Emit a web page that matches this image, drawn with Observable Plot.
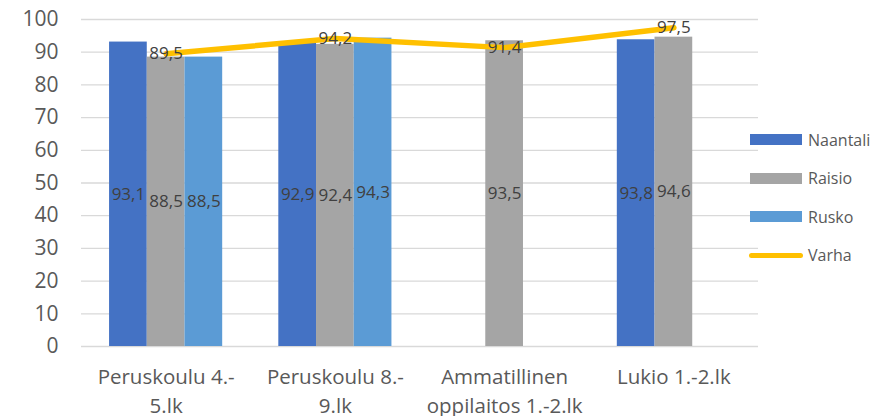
<!DOCTYPE html>
<html>
<head>
<meta charset="utf-8">
<script src="https://cdn.jsdelivr.net/npm/d3@7"></script>
<script src="https://cdn.jsdelivr.net/npm/@observablehq/plot@0.6"></script>
<style>
  html, body { margin: 0; padding: 0; background: #fff; }
  #wrap { position: relative; width: 871px; height: 416px; overflow: hidden; font-family: 'Open Sans', sans-serif; }
  .leg { position: absolute; left: 750px; display: flex; align-items: center; height: 20px; font-size: 16px; color: #595959; }
  .sw { width: 52px; height: 11px; margin-right: 6px; }
  .ln { width: 54px; height: 5px; border-radius: 3px; margin-right: 5px; margin-left: -1px; }
</style>
</head>
<body>
<div id="wrap"></div>
<script>
const categories = ["Peruskoulu 4.-5.lk", "Peruskoulu 8.-9.lk", "Ammatillinen oppilaitos 1.-2.lk", "Lukio 1.-2.lk"];
const categoryLabels = ["Peruskoulu 4.-\n5.lk", "Peruskoulu 8.-\n9.lk", "Ammatillinen\noppilaitos 1.-2.lk", "Lukio 1.-2.lk"];
const barSeries = ["Naantali", "Raisio", "Rusko"];
const naantali = [93.1, 92.9, null, 93.8];
const raisio = [88.5, 92.4, 93.5, 94.6];
const rusko = [88.5, 94.3, null, null];
const lineSeries = "Varha";
const varha = [89.5, 94.2, 91.4, 97.5];
const colors = {Naantali: "#4472C4", Raisio: "#A5A5A5", Rusko: "#5B9BD5", Varha: "#FFC000"};

const fmt = v => v.toFixed(1).replace(".", ",");
const bw = 0.2228; // bar width in category units
const seriesValues = [naantali, raisio, rusko];
const bars = [];
categories.forEach((c, i) => {
  barSeries.forEach((s, j) => {
    const v = seriesValues[j][i];
    if (v != null) bars.push({cat: i, series: s, value: v, x1: i + (j - 1.5) * bw, x2: i + (j - 0.5) * bw, xm: i + (j - 1) * bw});
  });
});
const linePts = categories.map((c, i) => ({cat: i, value: varha[i]}));

const chart = Plot.plot({
  width: 871,
  height: 416,
  marginLeft: 81,
  marginRight: 113,
  marginTop: 19,
  marginBottom: 70,
  style: {fontFamily: "'Open Sans', sans-serif", background: "transparent", overflow: "visible"},
  x: {domain: [-0.5, 3.5]},
  y: {domain: [0, 100]},
  color: {domain: Object.keys(colors), range: Object.values(colors)},
  marks: [
    Plot.gridY({ticks: d3.range(0, 101, 10), stroke: "#d9d9d9", strokeOpacity: 1, strokeWidth: 1.3}),
    Plot.axisY({ticks: d3.range(0, 101, 10), tickSize: 0, tickPadding: 23, fontSize: 21, color: "#595959", label: null}),
    Plot.axisX({ticks: [0, 1, 2, 3], tickFormat: i => categoryLabels[i], tickSize: 0, tickPadding: 18, fontSize: 20.5, lineHeight: 1.37, color: "#595959", label: null}),
    Plot.rectY(bars, {x1: "x1", x2: "x2", y1: 0, y2: "value", fill: d => colors[d.series]}),
    Plot.line(linePts, {x: "cat", y: "value", stroke: colors.Varha, strokeWidth: 5.5, strokeLinecap: "round", strokeLinejoin: "round"}),
    Plot.text(bars, {x: "xm", y: d => d.value / 2, text: d => fmt(d.value), fontSize: 17, fill: "#404040"}),
    Plot.text(linePts, {x: "cat", y: "value", text: d => fmt(d.value), fontSize: 17, fill: "#404040"})
  ]
});
const wrap = document.getElementById("wrap");
wrap.appendChild(chart);

const legendItems = [...barSeries, lineSeries];
legendItems.forEach((name, k) => {
  const item = document.createElement("div");
  item.className = "leg";
  item.style.top = (139.5 + k * 38.6 - 10) + "px";
  const sw = document.createElement("div");
  sw.className = name === lineSeries ? "ln" : "sw";
  sw.style.background = colors[name];
  item.appendChild(sw);
  const t = document.createElement("span");
  t.textContent = name;
  item.appendChild(t);
  wrap.appendChild(item);
});
</script>
</body>
</html>
